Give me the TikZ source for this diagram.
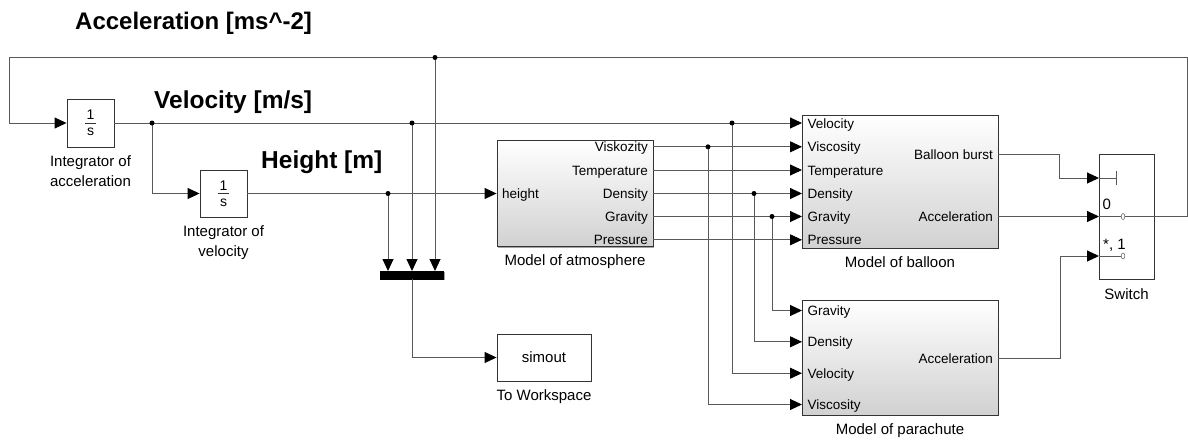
\documentclass[tikz,border=0pt]{standalone}
\usepackage{fontspec}
\setmainfont{Liberation Sans}
\usetikzlibrary{arrows.meta,shadows,calc}
\newcommand{\fsport}{\fontsize{13.5}{16}\selectfont}
\newcommand{\fscap}{\fontsize{15}{18}\selectfont}
\newcommand{\fsbig}{\fontsize{24.5}{28}\selectfont\bfseries}
\begin{document}
\begin{tikzpicture}[x=1pt,y=-1pt,
  wire/.style={draw=black!65, line width=0.9pt},
  arr/.style={wire,-{Triangle[length=12pt,width=11pt,color=black]}},
  blk/.style={draw=black!80, line width=0.9pt, fill=white, inner sep=0pt,
    drop shadow={shadow xshift=1.3pt, shadow yshift=-1.3pt, fill=black!45, opacity=0.8}},
  gblk/.style={blk, top color=white, bottom color=black!18},
  port/.style={inner sep=0pt, font=\fsport},
  captxt/.style={inner sep=0pt, font=\fscap, anchor=base},
  bigtxt/.style={inner sep=0pt, font=\fsbig, anchor=base west},
  jdot/.style={circle, fill=black, inner sep=0pt, minimum size=5pt},
]
\useasboundingbox (0,0) rectangle (1188,439);

% ---------- blocks ----------
\node[blk, minimum width=47pt, minimum height=48pt] (int1) at (90.5,123) {};
\node[blk, minimum width=47pt, minimum height=47pt] (int2) at (223.5,193.5) {};
\node[gblk, minimum width=156pt, minimum height=106pt] (atm) at (575,193.5) {};
\node[gblk, minimum width=196pt, minimum height=133pt] (bal) at (900,181.5) {};
\node[gblk, minimum width=196pt, minimum height=115pt] (par) at (900,357.5) {};
\node[blk, minimum width=55pt, minimum height=125pt] (sw) at (1126.5,216.5) {};
\node[blk, minimum width=94pt, minimum height=47pt] (simout) at (544,357.5) {};
\node[draw=black, fill=black, inner sep=0pt, minimum width=63pt, minimum height=8pt,
  drop shadow={shadow xshift=1.3pt, shadow yshift=-1.3pt, fill=black!45, opacity=0.8}] (mux) at (412,275) {};

% integrator contents
\node[port, font=\fontsize{14}{16}\selectfont] (int1n) at (90.5,115) {1};
\node[port, font=\fontsize{14}{16}\selectfont] (int1d) at (90.5,132) {s};
\draw[black!80, line width=0.7pt] ($(int1)+(-5.5,0)$) -- ($(int1)+(5.5,0)$);
\node[port, font=\fontsize{14}{16}\selectfont] (int2n) at (223.5,185.5) {1};
\node[port, font=\fontsize{14}{16}\selectfont] (int2d) at (223.5,202.5) {s};
\draw[black!80, line width=0.7pt] ($(int2)+(-5.5,0)$) -- ($(int2)+(5.5,0)$);
\node[port, font=\fscap] (simtxt) at (544,357.5) {simout};

% ---------- port coordinates ----------
\coordinate (ao1) at (653,146.8);
\coordinate (ao2) at (653,170);
\coordinate (ao3) at (653,193.5);
\coordinate (ao4) at (653,216.5);
\coordinate (ao5) at (653,239.8);
\coordinate (bi1) at (802,123);
\coordinate (bi2) at (802,146.8);
\coordinate (bi3) at (802,170);
\coordinate (bi4) at (802,193.5);
\coordinate (bi5) at (802,216.5);
\coordinate (bi6) at (802,239.8);
\coordinate (bo1) at (998,154);
\coordinate (bo2) at (998,216.5);
\coordinate (pi1) at (802,310.5);
\coordinate (pi2) at (802,341.8);
\coordinate (pi3) at (802,373.2);
\coordinate (pi4) at (802,404.5);
\coordinate (po) at (998,358);
\coordinate (si1) at (1099,178);
\coordinate (si2) at (1099,216.5);
\coordinate (si3) at (1099,256);
\coordinate (so) at (1154,216.5);
\coordinate (m1) at (388,271);
\coordinate (m2) at (412,271);
\coordinate (m3) at (435,271);
\coordinate (cTL) at (9,57.5);
\coordinate (cTR) at (1187,57.5);

% junctions
\coordinate (jv1) at (152,123);
\coordinate (jv2) at (412,123);
\coordinate (jv3) at (732,123);
\coordinate (jh) at (388,193.5);
\coordinate (ja) at (435,57.5);
\coordinate (jvis) at (708,146.8);
\coordinate (jden) at (754,193.5);
\coordinate (jgr) at (772,216.5);

% ---------- wires ----------
\draw[arr] (int1.east) -- (bi1);
\draw[arr] (jv1) |- (int2.west);
\draw[arr] (int2.east) -- (atm.west);
\draw[arr] (jh) -- (m1);
\draw[arr] (jv2) -- (m2);
\draw[arr] (ja) -- (m3);
\draw[arr] (mux.south) |- (simout.west);
\draw[arr] (ao1) -- (bi2);
\draw[arr] (ao2) -- (bi3);
\draw[arr] (ao3) -- (bi4);
\draw[arr] (ao4) -- (bi5);
\draw[arr] (ao5) -- (bi6);
\draw[arr] (jvis) |- (pi4);
\draw[arr] (jv3) |- (pi3);
\draw[arr] (jden) |- (pi2);
\draw[arr] (jgr) |- (pi1);
\draw[arr] (bo1) -- ++(61,0) |- (si1);
\draw[arr] (bo2) -- (si2);
\draw[arr] (po) -- ++(62,0) |- (si3);
\draw[arr] (so) -| (cTR) -- (cTL) |- (int1.west);

% switch interior
\draw[wire] (si2) -- (so);
\draw[wire] (si1) -- ++(17,0) coordinate (tk);
\draw[wire] ($(tk)+(0,-7)$) -- ($(tk)+(0,7)$);
\draw[wire] (si3) -- ++(22,0);
\draw[black!55, line width=0.6pt, fill=white] (1123,216.5) ellipse (1.8 and 3);
\draw[black!55, line width=0.6pt, fill=white] (1123,256) ellipse (1.8 and 3);

% junction dots
\foreach \j in {jv1,jv2,jv3,jh,ja,jvis,jden,jgr} \node[jdot] at (\j) {};

% ---------- labels ----------
\node[bigtxt, font=\fontsize{24}{28}\selectfont\bfseries] (tAcc) at (75,29.3) {Acceleration [ms\^{}-2]};
\node[bigtxt] (tVel) at (154,108.3) {Velocity [m/s]};
\node[bigtxt] (tHei) at (261,168.2) {Height [m]};

\node[captxt] (c1a) at (90.5,166.7) {Integrator of};
\node[captxt] (c1b) at (90.5,186.7) {acceleration};
\node[captxt] (c2a) at (223.5,236.7) {Integrator of};
\node[captxt] (c2b) at (223.5,256.5) {velocity};
\node[captxt] (c3) at (575,265.5) {Model of atmosphere};
\node[captxt] (c4) at (900,267.5) {Model of balloon};
\node[captxt] (c5) at (900,434.5) {Model of parachute};
\node[captxt] (c6) at (544,400.7) {To Workspace};
\node[captxt] (c7) at (1126.5,299) {Switch};

% atmosphere ports
\node[port, anchor=base west] (aIn) at (502,198.5) {height};
\node[port, anchor=base east] (aO1) at (648,151.8) {Viskozity};
\node[port, anchor=base east] (aO2) at (648,175) {Temperature};
\node[port, anchor=base east] (aO3) at (648,198.5) {Density};
\node[port, anchor=base east] (aO4) at (648,221.5) {Gravity};
\node[port, anchor=base east] (aO5) at (648,244.8) {Pressure};
% balloon ports
\node[port, anchor=base west] (bI1) at (807.5,128) {Velocity};
\node[port, anchor=base west] (bI2) at (807.5,151.8) {Viscosity};
\node[port, anchor=base west] (bI3) at (807.5,175) {Temperature};
\node[port, anchor=base west] (bI4) at (807.5,198.5) {Density};
\node[port, anchor=base west] (bI5) at (807.5,221.5) {Gravity};
\node[port, anchor=base west] (bI6) at (807.5,244.8) {Pressure};
\node[port, anchor=base east] (bO1) at (993,159) {Balloon burst};
\node[port, anchor=base east] (bO2) at (993,221.5) {Acceleration};
% parachute ports
\node[port, anchor=base west] (pI1) at (807.5,315.5) {Gravity};
\node[port, anchor=base west] (pI2) at (807.5,346.8) {Density};
\node[port, anchor=base west] (pI3) at (807.5,378.2) {Velocity};
\node[port, anchor=base west] (pI4) at (807.5,409.5) {Viscosity};
\node[port, anchor=base east] (pO) at (993,363) {Acceleration};
% switch labels
\node[port, font=\fscap, anchor=base west] (s0) at (1102.5,209) {0};
\node[port, font=\fscap, anchor=base west] (s1) at (1103,249) {*, 1};
\end{tikzpicture}
\end{document}
